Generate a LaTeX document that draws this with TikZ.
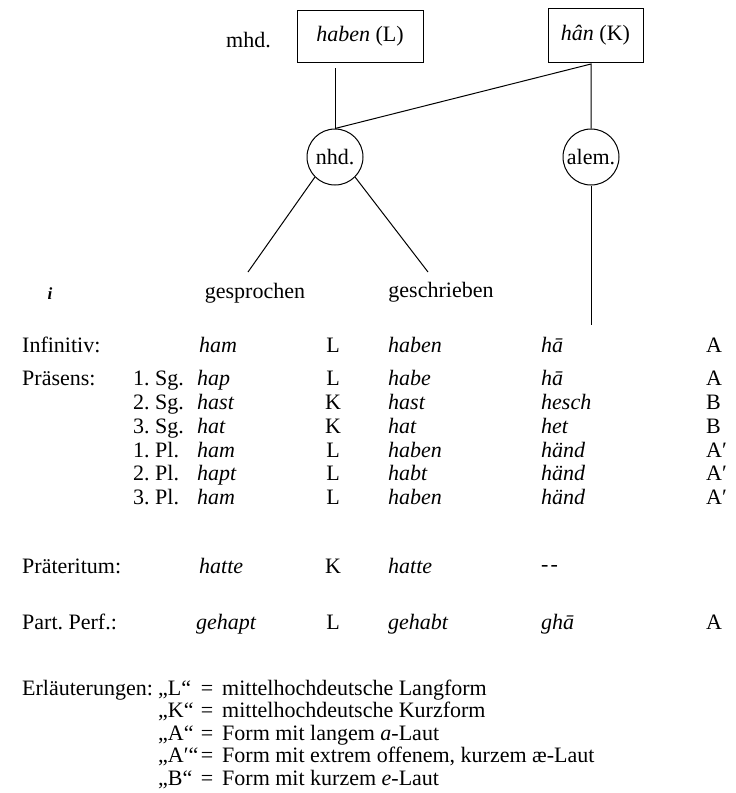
\documentclass[tikz,border=0pt]{standalone}
\usepackage{fontspec}
\setmainfont{Liberation Serif}
\tikzset{
  every node/.style={font=\fontsize{22}{24}\selectfont\frenchspacing, inner sep=0pt},
  txt/.style={anchor=base west},
  ctr/.style={anchor=base},
  formbox/.style={draw, line width=1pt},
  dialect/.style={draw, circle, minimum size=56pt, line width=1pt},
  conn/.style={line width=1pt}
}
\begin{document}
\begin{tikzpicture}[x=1pt,y=-1pt]
\useasboundingbox (0,0) rectangle (736,793);
% tree
\node[txt] (mhd) at (226,47) {mhd.};
\node[formbox, minimum width=126pt, minimum height=52pt] (b1) at (360,36) {\textit{haben} (L)};
\node[formbox, minimum width=95pt, minimum height=54pt] (b2) at (595.5,35) {\textit{hân} (K)};
\node[dialect] (nhd) at (335,157) {nhd.};
\node[dialect] (alem) at (591,157) {alem.};
\coordinate (b1foot) at (335,68);
\coordinate (b2foot) at (591,64);
\coordinate (gspTop) at (248,272);
\coordinate (gscTop) at (428,272);
\coordinate (alemFoot) at (591,325);
\draw[conn] (b1foot) -- (nhd.north);
\draw[conn] (nhd.north) -- (b2foot) -- (alem.north);
\draw[conn] (nhd.-135) -- (gspTop);
\draw[conn] (nhd.-45) -- (gscTop);
\draw[conn] (alem.south) -- (alemFoot);
\node[ctr] (gsp) at (255,298) {gesprochen};
\node[ctr] (gsc) at (441,297) {geschrieben};
\node[ctr, font=\fontsize{17}{17}\selectfont\bfseries\itshape] (speck) at (50,299) {i};
% Infinitiv
\node[txt] (inf) at (22,352) {Infinitiv:};
\node[txt] (inf-s) at (199,352) {\textit{ham}};
\node[ctr] (inf-t) at (333,352) {L};
\node[txt] (inf-w) at (388,352) {\textit{haben}};
\node[txt] (inf-a) at (541,352) {\textit{hā}};
\node[txt] (inf-c) at (706,352) {A};
% Praesens
\node[txt] (praes) at (22,385) {Präsens:};
\foreach \y/\p/\s/\t/\w/\a/\c [count=\n] in {
  385/1. Sg./hap/L/habe/hā/A,
  409/2. Sg./hast/K/hast/hesch/B,
  433/3. Sg./hat/K/hat/het/B,
  457/1. Pl./ham/L/haben/händ/A′,
  480/2. Pl./hapt/L/habt/händ/A′,
  504/3. Pl./ham/L/haben/händ/A′}{
  \node[txt] (p\n-p) at (133,\y) {\p};
  \node[txt] (p\n-s) at (197,\y) {\textit{\s}};
  \node[ctr] (p\n-t) at (333,\y) {\t};
  \node[txt] (p\n-w) at (388,\y) {\textit{\w}};
  \node[txt] (p\n-a) at (541,\y) {\textit{\a}};
  \node[txt] (p\n-c) at (706,\y) {\c};
}
% Praeteritum
\node[txt] (praet) at (22,573) {Präteritum:};
\node[txt] (praet-s) at (199,573) {\textit{hatte}};
\node[ctr] (praet-t) at (333,573) {K};
\node[txt] (praet-w) at (388,573) {\textit{hatte}};
\node[txt] (praet-a) at (541,571) {-\kern2pt-};
% Part. Perf.
\node[txt] (pp) at (22,629) {Part. Perf.:};
\node[txt] (pp-s) at (196,629) {\textit{gehapt}};
\node[ctr] (pp-t) at (333,629) {L};
\node[txt] (pp-w) at (388,629) {\textit{gehabt}};
\node[txt] (pp-a) at (541,629) {\textit{ghā}};
\node[txt] (pp-c) at (706,629) {A};
% legend
\node[txt] (erl) at (22,695) {Erläuterungen:};
\node[txt] (qL) at (158,695) {„L“};
\node[ctr] (eL) at (207,695) {=};
\node[txt] (dL) at (222,695) {mittelhochdeutsche Langform};
\node[txt] (qK) at (158,717.5) {„K“};
\node[ctr] (eK) at (207,717.5) {=};
\node[txt] (dK) at (222,717.5) {mittelhochdeutsche Kurzform};
\node[txt] (qA) at (158,740) {„A“};
\node[ctr] (eA) at (207,740) {=};
\node[txt] (dA) at (222,740) {Form mit langem \textit{a}-Laut};
\node[txt] (qAp) at (158,762.5) {„A′“};
\node[ctr] (eAp) at (207,762.5) {=};
\node[txt] (dAp) at (222,762.5) {Form mit extrem offenem, kurzem æ-Laut};
\node[txt] (qB) at (158,785) {„B“};
\node[ctr] (eB) at (207,785) {=};
\node[txt] (dB) at (222,785) {Form mit kurzem \textit{e}-Laut};
\end{tikzpicture}
\end{document}
